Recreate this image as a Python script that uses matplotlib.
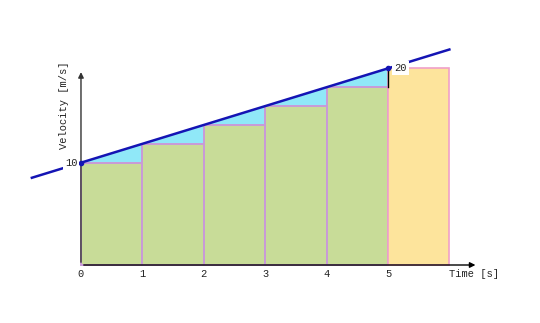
import numpy as np
from matplotlib import pyplot as plt

# step approximation of v = 10 + 2t
times = [0, 1, 2, 3, 4]
velocities = [10, 12, 14, 16, 18]
last_time = 5
last_velocity = 20
tick_labels = ["0", "1", "2", "3", "4", "5"]
line_t = [-0.8, 6.0]
line_v = [8.4, 22.0]
base = -0.85

green = "#c8dc98"
yellow = "#fde49c"
cyan = "#90e8f8"
blue = "#1414b4"
mono = ["Liberation Mono", "DejaVu Sans Mono"]

fig = plt.figure(figsize=(5.4, 3.23), dpi=100)
ax = fig.add_axes([0, 0, 1, 1])
ax.set_xlim(-1.319, 7.476)
ax.set_ylim(-7.0, 27.25)
ax.axis("off")

# cyan triangles between the line and the bar tops
all_v = velocities + [last_velocity]
for i, t in enumerate(times):
    ax.fill([t, t + 1, t + 1], [all_v[i], all_v[i + 1], all_v[i]],
            color=cyan, lw=0, zorder=1)

heights = np.array(velocities) - base
ax.bar(times, heights, bottom=base, width=1, align="edge",
       color=green, edgecolor="#c89ad8", linewidth=1.4, zorder=2)
ax.bar([last_time], [last_velocity - base], bottom=base, width=1,
       align="edge", color=yellow, edgecolor="#f0a0c8", linewidth=1.2,
       zorder=2)

ax.plot([last_time, last_time], [velocities[-1], last_velocity],
        color="black", lw=1, zorder=3)
ax.plot(line_t, line_v, color=blue, lw=1.8, zorder=4)
ax.plot([0, last_time], [velocities[0], last_velocity], "o", color=blue,
        ms=3, zorder=5)

# axes with arrows
ax.annotate("", xy=(0, 19.9), xytext=(0, base),
            arrowprops=dict(arrowstyle="-|>", color="#333333", lw=1,
                            mutation_scale=8), zorder=3)
ax.annotate("", xy=(6.47, base), xytext=(0, base),
            arrowprops=dict(arrowstyle="-|>", color="black", lw=1,
                            mutation_scale=8), zorder=3)

for i, lab in enumerate(tick_labels):
    ax.text(i, -1.8, lab, family=mono, fontsize=7.5, ha="center",
            va="center", color="#222222")
ax.text(6.0, -1.8, "Time [s]", family=mono, fontsize=7.5, ha="left",
        va="center", color="#222222")
ax.text(-0.27, 16.1, "Velocity [m/s]", family=mono, fontsize=7.5,
        rotation=90, ha="center", va="center", color="#222222")
ax.text(-0.06, 10, "10", family=mono, fontsize=7.5, ha="right",
        va="center", color="#222222", zorder=6,
        bbox=dict(facecolor="white", edgecolor="none", pad=1.5))
ax.text(5.1, 20, "20", family=mono, fontsize=7.5, ha="left",
        va="center", color="#222222", zorder=6,
        bbox=dict(facecolor="white", edgecolor="none", pad=1.5))

fig.savefig("out.png", dpi=100)
